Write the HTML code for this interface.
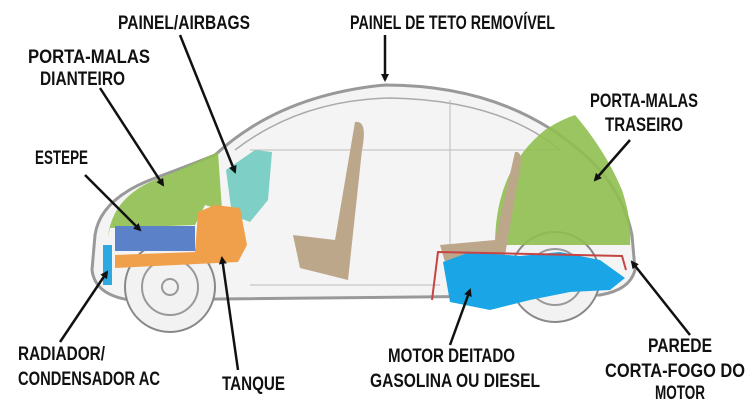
<!DOCTYPE html>
<html><head><meta charset="utf-8"><style>
body{margin:0;background:#fff}
svg{display:block}
text{font-family:"Liberation Sans Narrow","Liberation Sans",sans-serif;font-weight:bold;font-size:19px;fill:#111}
</style></head><body>
<svg width="750" height="400" viewBox="0 0 750 400">
<defs><marker id="a" markerWidth="8" markerHeight="8" refX="6" refY="4" orient="auto" markerUnits="userSpaceOnUse"><path d="M0,0 L8,4 L0,8 Z" fill="#111"/></marker></defs>
<path d="M95,235 Q100,200 150,180 Q190,165 215,155 Q280,95 385,85 Q520,85 600,170 Q625,200 632,235 L635,270 Q630,290 600,295 L130,300 Q95,295 92,270 Z" fill="#f4f4f4" stroke="#999" stroke-width="3"/>
<path d="M235,150 Q300,100 390,98 Q500,100 560,150" fill="none" stroke="#aaa" stroke-width="1.5"/>
<line x1="250" y1="150" x2="560" y2="150" stroke="#bbb"/>
<line x1="450" y1="100" x2="450" y2="290" stroke="#bbb"/>
<line x1="250" y1="285" x2="440" y2="285" stroke="#bbb"/>
<circle cx="170" cy="287" r="45" fill="#f2f2f2" stroke="#888" stroke-width="2"/>
<circle cx="170" cy="287" r="28" fill="none" stroke="#999" stroke-width="2"/>
<circle cx="170" cy="287" r="8" fill="none" stroke="#999" stroke-width="2"/>
<circle cx="555" cy="277" r="45" fill="#f2f2f2" stroke="#888" stroke-width="2"/>
<circle cx="555" cy="277" r="28" fill="none" stroke="#999" stroke-width="2"/>
<path d="M108,237 Q112,200 150,182 Q185,168 218,152 L222,210 L205,205 L195,225 L110,228 Z" fill="#8fbf4f" opacity=".9"/>
<path d="M226,170 L255,150 L272,152 L268,200 L250,222 L232,215 Z" fill="#7ecfc6"/>
<path d="M115,255 L195,252 L198,212 L215,205 L240,208 L247,245 L238,262 L115,268 Z" fill="#f0a04b"/>
<rect x="115" y="226" width="80" height="25" fill="#5b82c8"/>
<rect x="103" y="245" width="9" height="40" fill="#2ea8e0"/>
<path d="M495,245 Q495,170 545,130 Q560,120 575,115 Q605,150 622,190 Q632,220 630,245 Z" fill="#8fbf4f" opacity=".9"/>
<path d="M355,122 Q368,120 362,150 L348,280 L300,268 L293,235 L335,240 Z" fill="#bda78b"/>
<path d="M515,152 Q525,150 518,180 L505,255 L445,262 L440,245 L495,240 Z" fill="#bda78b"/>
<path d="M443,262 L470,252 L520,256 L560,252 L600,260 L625,278 L610,290 L570,292 L530,300 L490,310 L450,302 Z" fill="#1aa6e6"/>
<path d="M432,300 L438,252 L622,256 L626,270" fill="none" stroke="#c74444" stroke-width="2"/>
<g stroke="#111" stroke-width="2.5" marker-end="url(#a)">
<line x1="385" y1="35" x2="385" y2="80"/>
<line x1="180" y1="35" x2="235" y2="172"/>
<line x1="100" y1="88" x2="163" y2="185"/>
<line x1="85" y1="175" x2="140" y2="230"/>
<line x1="630" y1="140" x2="595" y2="180"/>
<line x1="60" y1="342" x2="107" y2="272"/>
<line x1="238" y1="370" x2="222" y2="258"/>
<line x1="450" y1="345" x2="470" y2="290"/>
<line x1="690" y1="335" x2="632" y2="262"/>
</g>
<g>
<text x="118" y="29" textLength="132" lengthAdjust="spacingAndGlyphs">PAINEL/AIRBAGS</text>
<text x="350" y="29" textLength="205" lengthAdjust="spacingAndGlyphs">PAINEL DE TETO REMOVÍVEL</text>
<text x="28" y="63" textLength="122" lengthAdjust="spacingAndGlyphs">PORTA-MALAS</text>
<text x="40" y="85" textLength="85" lengthAdjust="spacingAndGlyphs">DIANTEIRO</text>
<text x="35" y="164" textLength="53" lengthAdjust="spacingAndGlyphs">ESTEPE</text>
<text x="590" y="107" textLength="108" lengthAdjust="spacingAndGlyphs">PORTA-MALAS</text>
<text x="605" y="131" textLength="78" lengthAdjust="spacingAndGlyphs">TRASEIRO</text>
<text x="18" y="360" textLength="87" lengthAdjust="spacingAndGlyphs">RADIADOR/</text>
<text x="18" y="385" textLength="142" lengthAdjust="spacingAndGlyphs">CONDENSADOR AC</text>
<text x="222" y="390" textLength="63" lengthAdjust="spacingAndGlyphs">TANQUE</text>
<text x="388" y="362" textLength="127" lengthAdjust="spacingAndGlyphs">MOTOR DEITADO</text>
<text x="370" y="387" textLength="170" lengthAdjust="spacingAndGlyphs">GASOLINA OU DIESEL</text>
<text x="648" y="352" textLength="64" lengthAdjust="spacingAndGlyphs">PAREDE</text>
<text x="605" y="377" textLength="140" lengthAdjust="spacingAndGlyphs">CORTA-FOGO DO</text>
<text x="655" y="399" textLength="50" lengthAdjust="spacingAndGlyphs">MOTOR</text>
</g>
</svg>
</body></html>
